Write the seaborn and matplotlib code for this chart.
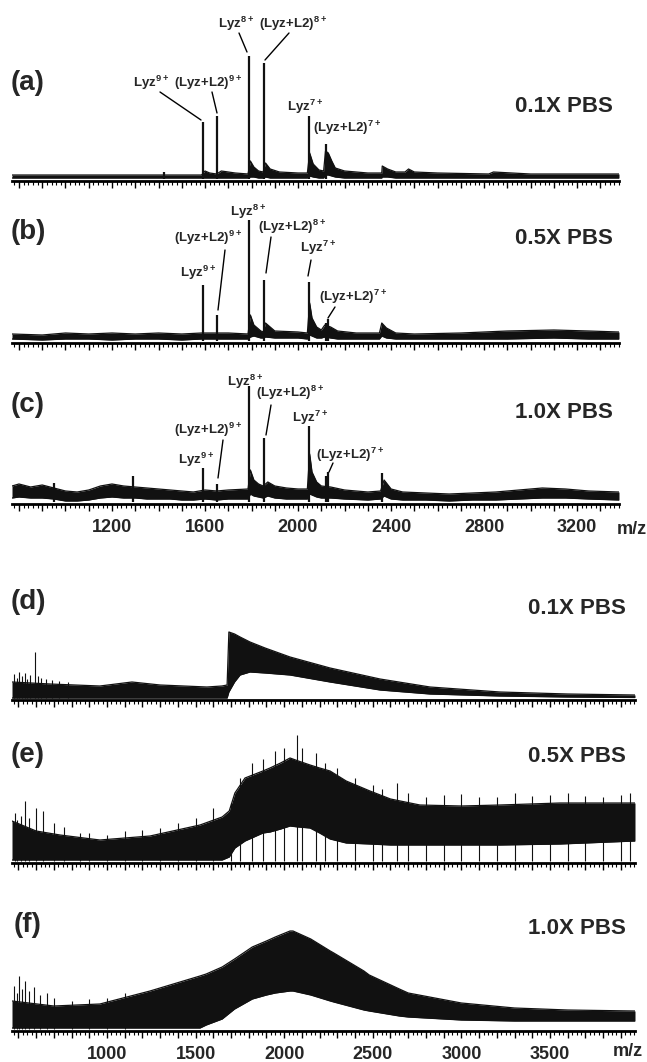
import matplotlib
matplotlib.use("Agg")
import numpy as np
import pandas as pd
import seaborn as sns
import matplotlib.pyplot as plt
from matplotlib.lines import Line2D
from matplotlib.ticker import MultipleLocator, FuncFormatter

W, H = 647, 1062

sns.set_theme(style="white")
plt.rcParams["font.family"] = ["Liberation Sans", "DejaVu Sans"]
plt.rcParams["font.weight"] = "bold"
plt.rcParams["mathtext.fontset"] = "custom"
plt.rcParams["mathtext.rm"] = "Liberation Sans:bold"
plt.rcParams["mathtext.it"] = "Liberation Sans:bold"
plt.rcParams["mathtext.bf"] = "Liberation Sans:bold"

# ---- data (m/z, intensity in arbitrary units) ----
XLIM_TOP = (770, 3380)
XLIM_BOT = (464, 3980)
TICKS_TOP = [1200, 1600, 2000, 2400, 2800, 3200]
TICKS_BOT = [1000, 1500, 2000, 2500, 3000, 3500]
PANEL_TAGS = ["(a)", "(b)", "(c)", "(d)", "(e)", "(f)"]
PBS_LABELS = ["0.1X PBS", "0.5X PBS", "1.0X PBS", "0.1X PBS", "0.5X PBS", "1.0X PBS"]

# (a) 0.1X PBS, lysozyme + L2
A_PEAK_MZ = [1425, 1590, 1650, 1789, 1852, 2045, 2118]
A_PEAK_H = [9, 59, 65, 125, 118, 65, 37]
A_ENV_MZ = [770, 1200, 1420, 1585, 1600, 1620, 1650, 1670, 1700, 1730, 1785, 1795, 1810, 1830,
            1850, 1860, 1880, 1920, 2000, 2040, 2050, 2065, 2090, 2110, 2118, 2130, 2145, 2160,
            2200, 2300, 2360, 2362, 2385, 2420, 2460, 2475, 2500, 2600, 2820, 2840, 3000, 3380]
A_ENV_HI = [6, 6, 6, 6, 10, 8, 7, 10, 9, 8, 7, 20, 14, 10,
            9, 18, 12, 9, 8, 8, 28, 17, 11, 10, 30, 28, 20, 13,
            10, 8, 8, 15, 12, 9, 9, 12, 9, 8, 7, 9, 7, 7]
A_ENV_LO = [3, 3, 3, 3, 3, 3, 3, 3, 3, 3, 3, 4, 4, 3,
            3, 4, 3, 3, 3, 3, 5, 4, 3, 3, 6, 6, 5, 4,
            3, 3, 3, 4, 4, 3, 3, 3, 3, 3, 3, 3, 3, 3]

# (b) 0.5X PBS
B_PEAK_MZ = [1590, 1650, 1789, 1852, 2045, 2118, 2130]
B_PEAK_H = [58, 28, 123, 63, 61, 20, 24]
B_ENV_MZ = [770, 900, 1000, 1100, 1200, 1300, 1400, 1500, 1585, 1700, 1785, 1795, 1810, 1840,
            1850, 1860, 1900, 2000, 2040, 2050, 2060, 2080, 2100, 2115, 2140, 2170, 2250, 2350,
            2360, 2380, 2420, 2500, 2700, 2900, 3100, 3250, 3380]
B_ENV_HI = [9, 8, 10, 9, 10, 9, 10, 9, 10, 10, 9, 28, 18, 12,
            11, 20, 12, 11, 10, 40, 25, 16, 13, 18, 16, 12, 10, 10,
            20, 15, 10, 9, 10, 12, 13, 12, 11]
B_ENV_LO = [4, 3, 4, 4, 3, 4, 4, 3, 4, 4, 4, 6, 7, 5,
            5, 6, 5, 5, 4, 8, 7, 5, 5, 6, 5, 4, 4, 4,
            7, 5, 4, 4, 4, 4, 5, 4, 4]

# (c) 1.0X PBS
C_PEAK_MZ = [950, 1290, 1590, 1650, 1789, 1852, 2045, 2118, 2130, 2363]
C_PEAK_H = [21, 28, 36, 20, 118, 66, 78, 28, 32, 31]
C_ENV_MZ = [770, 800, 850, 900, 950, 1000, 1050, 1100, 1150, 1200, 1250, 1300, 1350, 1400,
            1450, 1500, 1550, 1600, 1650, 1700, 1785, 1795, 1810, 1830, 1850, 1870, 1900, 1950,
            2000, 2040, 2050, 2060, 2080, 2100, 2140, 2200, 2300, 2355, 2370, 2400, 2450, 2550,
            2650, 2750, 2850, 2950, 3050, 3150, 3250, 3380]
C_ENV_HI = [18, 20, 17, 19, 16, 13, 12, 14, 18, 20, 18, 17, 16, 15,
            14, 13, 12, 14, 13, 14, 15, 34, 24, 20, 18, 22, 18, 16,
            15, 15, 50, 32, 22, 18, 17, 14, 12, 13, 24, 15, 12, 11,
            10, 11, 12, 14, 16, 15, 13, 12]
C_ENV_LO = [6, 7, 6, 6, 5, 3, 3, 4, 6, 7, 6, 6, 5, 5,
            5, 4, 4, 5, 4, 5, 5, 10, 8, 7, 6, 8, 6, 5,
            5, 5, 10, 9, 7, 6, 6, 5, 4, 5, 8, 5, 4, 4,
            3, 4, 4, 5, 6, 6, 5, 4]

# (d) 0.1X PBS, wide scan
D_ENV_MZ = [464, 678, 960, 1141, 1300, 1564, 1649, 1678, 1688, 1720, 1751, 1807, 1892, 2033,
            2259, 2541, 2823, 3218, 3600, 3980]
D_ENV_HI = [18, 16, 14, 18, 15, 13, 14, 15, 68, 66, 63, 58, 52, 43,
            32, 21, 13, 8, 6, 5]
D_ENV_LO = [2, 2, 2, 2, 2, 2, 2, 2, 8, 18, 25, 28, 27, 25,
            18, 10, 6, 4, 3, 2.5]
D_SPK_MZ = [478, 492, 505, 520, 536, 550, 566, 594, 612, 630, 655, 690, 730, 780]
D_SPK_H = [26, 22, 28, 24, 27, 21, 25, 48, 24, 22, 21, 20, 19, 18]

# (e) 0.5X PBS, wide scan
E_ENV_MZ = [464, 600, 735, 960, 1243, 1525, 1650, 1690, 1722, 1779, 1880, 1920, 1980, 2033,
            2080, 2146, 2200, 2259, 2350, 2484, 2600, 2766, 3000, 3218, 3557, 3980]
E_ENV_HI = [42, 32, 28, 23, 27, 38, 46, 52, 70, 85, 92, 95, 100, 105,
            102, 98, 95, 92, 82, 72, 64, 58, 57, 58, 60, 60]
E_ENV_LO = [3, 3, 3, 3, 3, 3, 3, 6, 15, 22, 30, 31, 34, 37,
            36, 35, 30, 24, 20, 19, 18, 18, 18, 18, 19, 22]
E_SPK_MZ = [480, 490, 512, 537, 560, 600, 639, 700, 760, 850, 900, 1000, 1100, 1200, 1300,
            1400, 1500, 1600, 1700, 1750, 1820, 1880, 1950, 2000, 2072, 2100, 2180, 2230,
            2300, 2400, 2500, 2550, 2637, 2700, 2800, 2900, 3000, 3100, 3200, 3300, 3400,
            3500, 3600, 3700, 3800, 3900, 3950]
E_SPK_H = [50, 43, 47, 62, 45, 55, 52, 40, 36, 30, 30, 28, 32, 33, 35,
           40, 45, 55, 60, 85, 100, 104, 112, 115, 128, 115, 110, 100,
           95, 85, 78, 74, 80, 70, 66, 68, 69, 66, 66, 70, 67,
           68, 70, 67, 66, 68, 70]

# (f) 1.0X PBS, wide scan
F_ENV_MZ = [464, 700, 960, 1243, 1525, 1560, 1650, 1720, 1820, 1900, 1950, 2033, 2050, 2150,
            2260, 2280, 2450, 2480, 2650, 2700, 3000, 3300, 3600, 3980]
F_ENV_HI = [30, 25, 27, 40, 55, 57, 64, 72, 84, 90, 94, 100, 100, 92,
            80, 78, 60, 56, 42, 38, 28, 23, 21, 20]
F_ENV_LO = [3, 3, 3, 3, 3, 6, 12, 22, 32, 36, 38, 40, 40, 36,
            30, 29, 21, 20, 15, 14, 11, 10, 10, 10]
F_SPK_MZ = [478, 490, 505, 520, 540, 560, 590, 620, 660, 700, 800, 900, 1000, 1100]
F_SPK_H = [45, 38, 55, 42, 50, 40, 44, 36, 38, 33, 30, 32, 33, 38]

# ---- layout (pixels) ----
AXIS_Y = [181, 343, 504, 700, 863, 1031]
PANEL_H = 175
TAG_Y = [83, 232, 405, 602, 755, 925]
PBS_Y = [107, 238, 412, 608, 757, 929]

fig = plt.figure(figsize=(W / 100, H / 100), dpi=100)


def fx(x):
    return x / W


def fy(y):
    return 1 - y / H


def make_axes(i):
    if i < 3:
        left, right, xlim, ticks, minor = 12, 619, XLIM_TOP, TICKS_TOP, 20
    else:
        left, right, xlim, ticks, minor = 12, 635, XLIM_BOT, TICKS_BOT, 25
    ax = fig.add_axes([fx(left), fy(AXIS_Y[i]), (right - left) / W, PANEL_H / H])
    ax.set_xlim(*xlim)
    ax.set_ylim(0, PANEL_H)
    ax.patch.set_alpha(0)
    for s in ["left", "top", "right"]:
        ax.spines[s].set_visible(False)
    ax.spines["bottom"].set_linewidth(2.0)
    ax.spines["bottom"].set_color("black")
    ax.set_yticks([])
    ax.xaxis.set_major_locator(MultipleLocator(100))
    ax.xaxis.set_minor_locator(MultipleLocator(minor))
    show = i in (2, 5)
    ax.xaxis.set_major_formatter(
        FuncFormatter(lambda v, p, t=ticks, s=show: f"{int(round(v))}" if s and int(round(v)) in t else ""))
    ax.tick_params(axis="x", which="major", direction="out", length=5, width=1.0,
                   color="black", bottom=True, labelsize=13, pad=6)
    ax.tick_params(axis="x", which="minor", direction="out", length=3, width=0.8,
                   color="black", bottom=True)
    for lab in ax.get_xticklabels():
        lab.set_fontweight("bold")
    return ax


def draw_band(ax, mz, lo, hi):
    df = pd.DataFrame({"mz": mz, "lo": lo, "hi": hi})
    ax.fill_between(df["mz"], df["lo"], df["hi"], color="#111111", lw=0)
    sns.lineplot(data=df, x="mz", y="hi", ax=ax, color="#111111", lw=0.9,
                 estimator=None, sort=False, legend=False)
    sns.lineplot(data=df, x="mz", y="lo", ax=ax, color="#111111", lw=0.9,
                 estimator=None, sort=False, legend=False)


def draw_peaks(ax, mz, h, lw=1.6):
    ax.vlines(mz, 2, h, color="#111111", lw=lw)


panels = [
    (A_ENV_MZ, A_ENV_LO, A_ENV_HI, A_PEAK_MZ, A_PEAK_H, 1.6),
    (B_ENV_MZ, B_ENV_LO, B_ENV_HI, B_PEAK_MZ, B_PEAK_H, 1.6),
    (C_ENV_MZ, C_ENV_LO, C_ENV_HI, C_PEAK_MZ, C_PEAK_H, 1.6),
    (D_ENV_MZ, D_ENV_LO, D_ENV_HI, D_SPK_MZ, D_SPK_H, 0.8),
    (E_ENV_MZ, E_ENV_LO, E_ENV_HI, E_SPK_MZ, E_SPK_H, 0.8),
    (F_ENV_MZ, F_ENV_LO, F_ENV_HI, F_SPK_MZ, F_SPK_H, 0.8),
]

for i, (mz, lo, hi, pmz, ph, plw) in enumerate(panels):
    ax = make_axes(i)
    draw_band(ax, mz, lo, hi)
    draw_peaks(ax, pmz, ph, plw)
    ax.set_xlabel("")
    ax.set_ylabel("")
    fig.text(fx(28), fy(TAG_Y[i]), PANEL_TAGS[i], ha="center", va="center",
             fontsize=20, fontweight="bold")
    right_edge = 613 if i < 3 else 626
    fig.text(fx(right_edge), fy(PBS_Y[i]), PBS_LABELS[i], ha="right", va="center",
             fontsize=16, fontweight="bold")

fig.text(fx(632), fy(530), "m/z", ha="center", va="center", fontsize=13, fontweight="bold")
fig.text(fx(628), fy(1052), "m/z", ha="center", va="center", fontsize=13, fontweight="bold")

# peak annotations: text, x, y, optional leader line (x1, y1, x2, y2) in pixels
L9 = r"Lyz$^{\mathregular{9+}}$"
L8 = r"Lyz$^{\mathregular{8+}}$"
L7 = r"Lyz$^{\mathregular{7+}}$"
P9 = r"(Lyz+L2)$^{\mathregular{9+}}$"
P8 = r"(Lyz+L2)$^{\mathregular{8+}}$"
P7 = r"(Lyz+L2)$^{\mathregular{7+}}$"
notes = [
    (L9, 151, 83, (160, 92, 201, 120)),
    (P9, 208, 83, (212, 92, 217, 113)),
    (L8, 236, 24, (239, 33, 247, 52)),
    (P8, 293, 24, (289, 33, 265, 60)),
    (L7, 305, 107, None),
    (P7, 347, 128, None),
    (L8, 248, 212, None),
    (P9, 208, 238, (225, 250, 218, 310)),
    (P8, 292, 227, (271, 237, 266, 273)),
    (L7, 318, 248, (311, 260, 308, 276)),
    (L9, 198, 273, None),
    (P7, 353, 297, (335, 307, 328, 318)),
    (L8, 245, 382, None),
    (P8, 290, 393, (271, 405, 266, 435)),
    (L7, 310, 418, None),
    (P9, 208, 430, (223, 440, 218, 478)),
    (L9, 196, 460, None),
    (P7, 350, 455, (333, 463, 329, 472)),
]
for txt, x, y, seg in notes:
    fig.text(fx(x), fy(y), txt, ha="center", va="center", fontsize=9.5, fontweight="bold")
    if seg is not None:
        x1, y1, x2, y2 = seg
        fig.add_artist(Line2D([fx(x1), fx(x2)], [fy(y1), fy(y2)], transform=fig.transFigure,
                              color="black", lw=1.0))

fig.savefig("out.png", dpi=100)
